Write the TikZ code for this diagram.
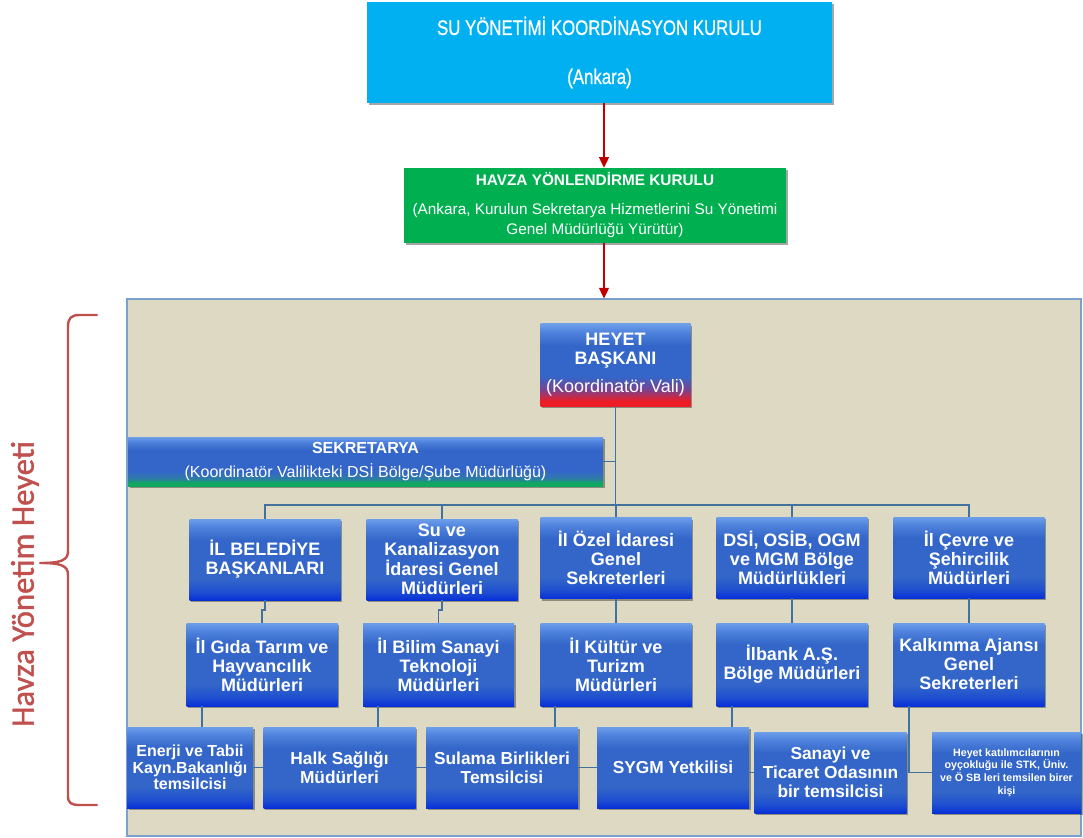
\documentclass[tikz,border=0pt]{standalone}
\usepackage{fontspec}
\setmainfont{Liberation Sans}
\newfontfamily\narrowfont[FakeStretch=0.8,FakeBold=0.8]{Liberation Sans}
\newfontfamily\calfont[FakeBold=1.2]{Carlito}
\usetikzlibrary{shadows,arrows.meta}
\definecolor{topc}{HTML}{00B0F0}
\definecolor{greenc}{HTML}{00B050}
\definecolor{panelc}{HTML}{DDD9C3}
\definecolor{panelb}{HTML}{7BA0CD}
\definecolor{connc}{HTML}{41719C}
\definecolor{arrc}{HTML}{C00000}
\definecolor{bracec}{HTML}{C0504D}
\definecolor{btop}{HTML}{6E9EEA}
\definecolor{bhi}{HTML}{4E82DC}
\definecolor{bmid}{HTML}{3366C8}
\definecolor{blow}{HTML}{1E4ED0}
\definecolor{bbot}{HTML}{0830D8}
\definecolor{rbot}{HTML}{EE1C25}
\definecolor{rmid}{HTML}{7A4290}
\definecolor{gbot}{HTML}{10A860}
\definecolor{gmid}{HTML}{2E7AA8}
\pgfdeclareverticalshading{bluebox}{100bp}{color(0bp)=(bbot); color(25bp)=(bbot); color(30bp)=(blow); color(38bp)=(bmid); color(62bp)=(bmid); color(70bp)=(bhi); color(75bp)=(btop); color(100bp)=(btop)}
\pgfdeclareverticalshading{redbox}{100bp}{color(0bp)=(rbot); color(25bp)=(rbot); color(28bp)=(rbot); color(35bp)=(rmid); color(43bp)=(bmid); color(62bp)=(bmid); color(70bp)=(bhi); color(75bp)=(btop); color(100bp)=(btop)}
\pgfdeclareverticalshading{greenbox}{100bp}{color(0bp)=(gbot); color(25bp)=(gbot); color(28bp)=(gbot); color(33bp)=(gmid); color(40bp)=(bmid); color(62bp)=(bmid); color(70bp)=(bhi); color(75bp)=(btop); color(100bp)=(btop)}
\begin{document}
\begin{tikzpicture}[x=0.75pt,y=-0.75pt,
  shad/.style={drop shadow={shadow xshift=1.2pt,shadow yshift=-1.5pt,opacity=0.35,fill=black}},
  flatbox/.style={shad,text=white,align=center,inner sep=0pt},
  box/.style={flatbox,shade,shading=bluebox,font=\bfseries\fontsize{13.5}{14.25}\selectfont},
  rowa/.style={box,minimum width=113.25pt,minimum height=60.75pt},
  rowb/.style={box,minimum width=113.25pt,minimum height=62.25pt},
  rowc/.style={box,minimum width=114pt,minimum height=60.75pt,font=\bfseries\fontsize{13}{14.25}\selectfont},
  conn/.style={draw=connc,line width=1.2pt},
  arr/.style={draw=arrc,line width=1pt,-{Triangle[width=7.5pt,length=8pt]}}]
\useasboundingbox (0,0) rectangle (1083,838);

% panel
\node[draw=panelb,fill=panelc,line width=0.8pt,minimum width=715.5pt,minimum height=402.75pt,inner sep=0pt] (panel) at (604,567.5) {};

% top boxes
\node[flatbox,fill=topc,minimum width=348.75pt,minimum height=75.75pt,font=\narrowfont\fontsize{15.75}{36.75}\selectfont] (top) at (599.5,52.5) {SU YÖNETİMİ KOORDİNASYON KURULU\\(Ankara)};
\node[flatbox,fill=greenc,minimum width=286.5pt,minimum height=56.25pt,font=\fontsize{11.5}{15}\selectfont] (green) at (595,205.5) {{\bfseries HAVZA YÖNLENDİRME KURULU}\\[6.75pt](Ankara, Kurulun Sekretarya Hizmetlerini Su Yönetimi\\Genel Müdürlüğü Yürütür)};

\draw[arr] (top.south -| panel.north) -- (green.north -| panel.north);
\draw[arr] (green.south -| panel.north) -- (panel.north);

% heyet and sekretarya
\node[box,shading=redbox,minimum width=112.5pt,minimum height=61.5pt] (heyet) at (615.5,365) {HEYET\\BAŞKANI\\[6.75pt]{\mdseries (Koordinatör Vali)}};
\node[box,shading=greenbox,minimum width=356.25pt,minimum height=36.75pt,font=\fontsize{12}{18}\selectfont] (sek) at (365.5,461.5) {{\bfseries SEKRETARYA}\\(Koordinatör Valilikteki DSİ Bölge/Şube Müdürlüğü)};

% row 1
\node[rowa] (A) at (265,559.5) {İL BELEDİYE\\BAŞKANLARI};
\node[rowa] (B) at (442,559.5) {Su ve\\Kanalizasyon\\İdaresi Genel\\Müdürleri};
\node[rowa] (C) at (616,558) {İl Özel İdaresi\\Genel\\Sekreterleri};
\node[rowa] (D) at (792,557.5) {DSİ, OSİB, OGM\\ve MGM Bölge\\Müdürlükleri};
\node[rowa] (E) at (969,557.5) {İl Çevre ve\\Şehircilik\\Müdürleri};

% row 2
\node[rowb] (A2) at (262,664.5) {İl Gıda Tarım ve\\Hayvancılık\\Müdürleri};
\node[rowb] (B2) at (438.5,664.5) {İl Bilim Sanayi\\Teknoloji\\Müdürleri};
\node[rowb] (C2) at (616,664.5) {İl Kültür ve\\Turizm\\Müdürleri};
\node[rowb] (D2) at (792,664.5) {İlbank A.Ş.\\Bölge Müdürleri};
\node[rowb] (E2) at (969,664.5) {Kalkınma Ajansı\\Genel\\Sekreterleri};

% row 3
\node[rowc,minimum width=94.5pt,font=\bfseries\fontsize{12}{12.4}\selectfont] (F) at (190,767.5) {Enerji ve Tabii\\Kayn.Bakanlığı\\temsilcisi};
\node[rowc] (G) at (339.5,767.5) {Halk Sağlığı\\Müdürleri};
\node[rowc] (H) at (502,767.5) {Sulama Birlikleri\\Temsilcisi};
\node[rowc] (I) at (673,767.5) {SYGM Yetkilisi};
\node[rowc] (J) at (830.5,772.5) {Sanayi ve\\Ticaret Odasının\\bir temsilcisi};
\node[rowc,minimum width=111.75pt,font=\bfseries\fontsize{8}{9.4}\selectfont] (K) at (1006.5,772.5) {Heyet katılımcılarının\\oyçokluğu ile STK, Üniv.\\ve Ö SB leri temsilen birer\\kişi};

% connectors
\coordinate (bus) at (616,505);
\draw[conn] (heyet.south) -- (heyet.south |- bus);
\draw[conn] (sek.east) -- (sek.east -| heyet.south);
\draw[conn] (A.north) |- (bus) -| (E.north);
\draw[conn] (B.north) -- (B.north |- bus);
\draw[conn] (C.north) -- (C.north |- bus);
\draw[conn] (D.north) -- (D.north |- bus);

\draw[conn] (A.south) -- ++(0,10) -| (A2.north);
\draw[conn] (B.south) -- ++(0,10) -| (B2.north);
\draw[conn] (C.south) -- (C2.north);
\draw[conn] (D.south) -- (D2.north);
\draw[conn] (E.south) -- (E2.north);

\coordinate (a2o) at (202,706);
\coordinate (b2o) at (378,706);
\coordinate (c2o) at (555,706);
\coordinate (d2o) at (732,706);
\coordinate (e2o) at (909,706);
\draw[conn] (a2o) -- (a2o |- F.north);
\draw[conn] (b2o) -- (b2o |- G.north);
\draw[conn] (c2o) -- (c2o |- H.north);
\draw[conn] (d2o) -- (d2o |- I.north);
\draw[conn] (e2o) |- (K.west);

\draw[conn] (F.east) -- (G.west) (G.east) -- (H.west) (H.east) -- (I.west) (I.east |- J.west) -- (J.west);

% brace
\draw[bracec,line width=1.8pt,line cap=round,line join=round]
  (97,315) -- (80,315) .. controls (71,315) and (68,318) .. (68,327) -- (68,551)
  .. controls (68,560) and (62,563) .. (40,563)
  .. controls (62,563) and (68,566) .. (68,575) -- (68,796)
  .. controls (68,803) and (71,805) .. (80,805) -- (97,805);
\node[rotate=90,text=bracec,font=\calfont\fontsize{24.5}{24.5}\selectfont,inner sep=0pt] (lbl) at (25,584) {Havza Yönetim Heyeti};
\end{tikzpicture}
\end{document}
